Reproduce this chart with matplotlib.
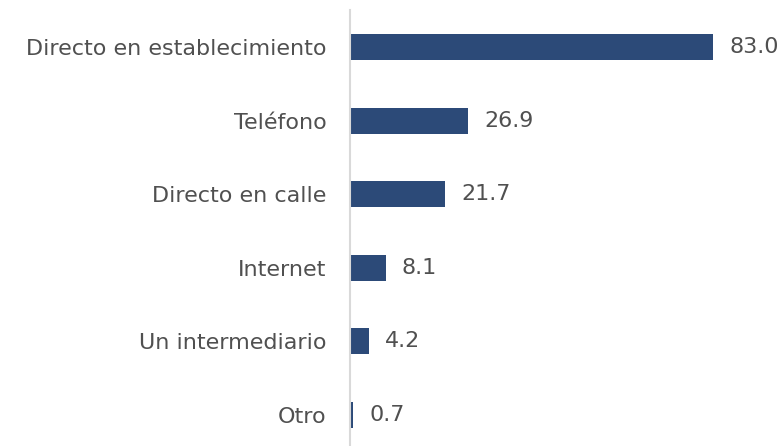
import matplotlib.pyplot as plt

categories = ["Directo en establecimiento", "Teléfono", "Directo en calle",
              "Internet", "Un intermediario", "Otro"]
values = [83.0, 26.9, 21.7, 8.1, 4.2, 0.7]

bar_color = "#2c4a78"
text_color = "#505050"

fig = plt.figure(figsize=(7.8, 4.46), dpi=100)
ax = fig.add_axes([0.449, -0.013, 0.551, 0.99])

ypos = list(range(len(categories)))
ax.barh(ypos, values, height=0.353, color=bar_color)

ax.set_ylim(len(categories) - 0.5, -0.5)
ax.set_xlim(0, 98.3)
ax.set_yticks(ypos)
ax.set_yticklabels(categories, fontsize=16, color=text_color)
ax.tick_params(axis="y", length=0, pad=17)
ax.set_xticks([])

for s in ["top", "right", "bottom"]:
    ax.spines[s].set_visible(False)
ax.spines["left"].set_color("#d9d9d9")
ax.spines["left"].set_linewidth(1.5)

for y, v in zip(ypos, values):
    ax.text(v + 3.7, y, f"{v:.1f}", va="center", ha="left",
            fontsize=16, color=text_color)

fig.savefig("out.png", dpi=100)
